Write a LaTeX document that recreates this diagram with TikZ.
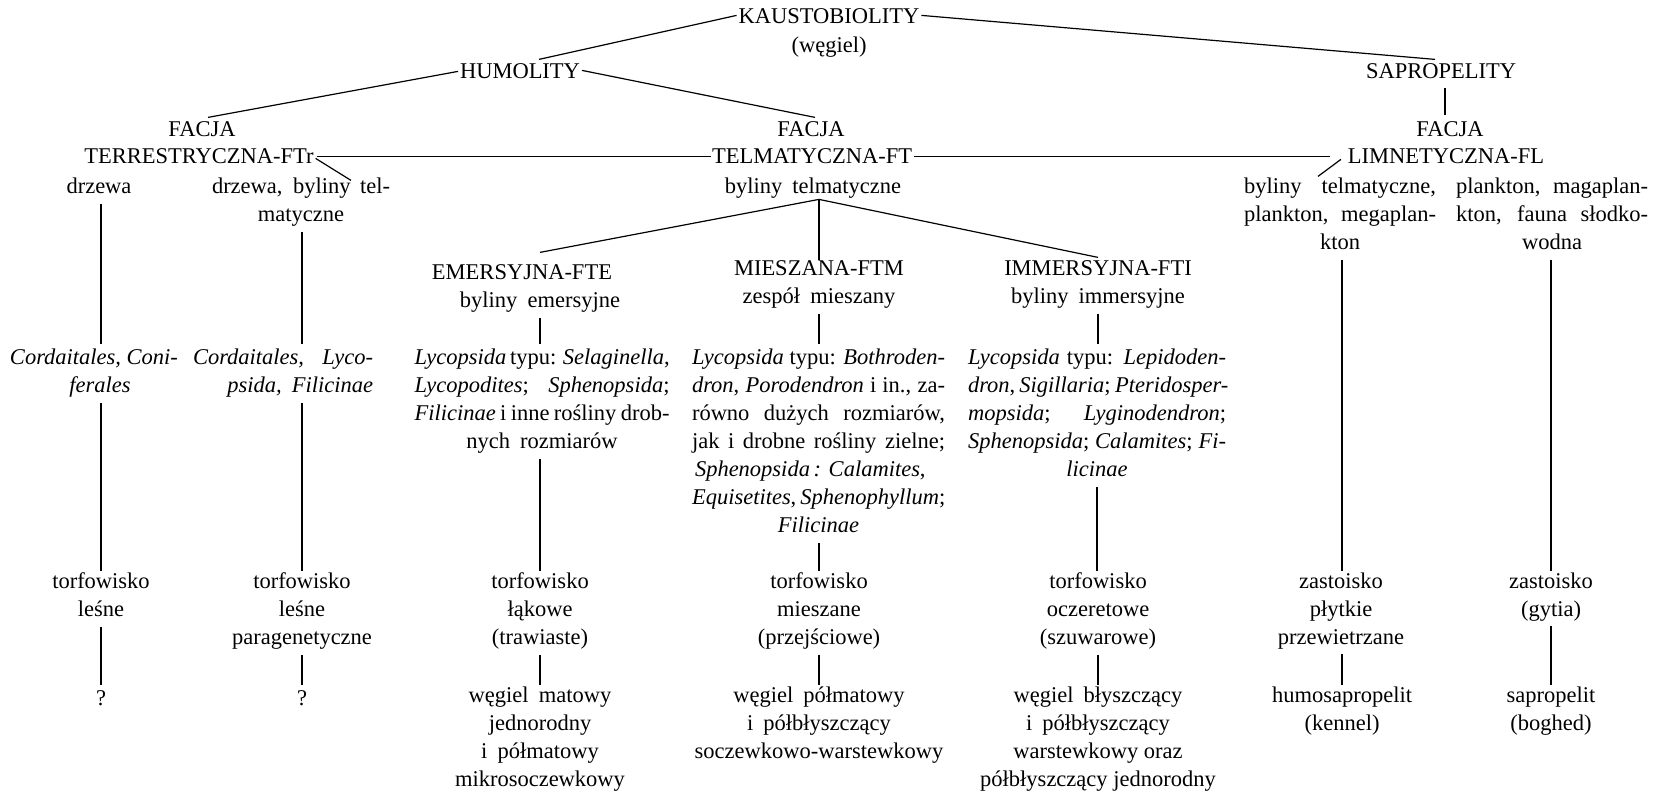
\documentclass[tikz,border=0pt]{standalone}
\usepackage{fontspec}
\setmainfont{Liberation Serif}
\usetikzlibrary{calc}
\newcommand\diagfont{\fontsize{11.25}{14}\selectfont}
\newcommand\natsp{\spaceskip=0pt\xspaceskip=0pt\relax}
\newcommand\jl[1]{\makebox[\linewidth][s]{\natsp #1}}
\newcommand\jleft[1]{\makebox[\linewidth][l]{\natsp #1}}
\newcommand\jright[1]{\makebox[\linewidth][r]{\natsp #1}}
\newcommand\ws{\hspace{0.45em}}
\begin{document}
\begin{tikzpicture}[x=0.5pt,y=-0.5pt,
  lbl/.style={inner sep=0pt,outer sep=0pt,anchor=north,yshift=9.8pt,align=center,
    font={\diagfont\natsp},execute at begin node={\natsp\strut},execute at end node=\strut},
  blk/.style={lbl,text width=#1},
  conn/.style={line width=0.6pt}]
\useasboundingbox (0,0) rectangle (1666,795);
\newcommand\vcon[3]{\draw[conn] ($(#1.south)+(#3,2)$) -- ($(#1.south |- #2.north)+(#3,-1)$);}

% ---- top levels
\node[lbl] (kaust) at (829,24) {KAUSTOBIOLITY};
\node[lbl] (weg) at (829,53) {(węgiel)};
\node[lbl] (hum) at (520,79) {HUMOLITY};
\node[lbl] (sapro) at (1441,79) {SAPROPELITY};
\node[lbl] (facT) at (202,137) {FACJA};
\node[lbl] (terr) at (199,164) {TERRESTRYCZNA-FTr};
\node[lbl] (facM) at (811,137) {FACJA};
\node[lbl] (telm) at (812,164) {TELMATYCZNA-FT};
\node[lbl] (facL) at (1450,137) {FACJA};
\node[lbl] (limn) at (1446,164) {LIMNETYCZNA-FL};

% ---- vegetation row
\node[lbl] (drz1) at (99,194) {drzewa};
\node[blk=89pt] (drz2) at (301,194) {\jl{drzewa, byliny tel-}\\matyczne};
\node[lbl] (bt) at (813,194) {byliny\ws telmatyczne};
\node[blk=96pt] (bt1) at (1340,194) {\jl{byliny telmatyczne,}\\\jl{plankton, megaplan-}\\kton};
\node[blk=96pt] (bt2) at (1552,194) {\jl{plankton, magaplan-}\\\jl{kton, fauna słodko-}\\wodna};

% ---- sub-facies
\node[lbl] (emer) at (522,280) {EMERSYJNA-FTE};
\node[lbl] (emerb) at (540,308) {byliny\ws emersyjne};
\node[lbl] (mies) at (819,280) {MIESZANA-FTM\\zespół\ws mieszany};
\node[lbl] (imm) at (1098,280) {IMMERSYJNA-FTI\\byliny\ws immersyjne};

% ---- plant lists
\node[blk=90pt] (cord1) at (100,365) {\jleft{\textit{Cordaitales, Coni-}}\\\textit{ferales}};
\node[blk=90pt] (cord2) at (283,365) {\jl{\textit{Cordaitales, Lyco-}}\\\jright{\textit{psida,\ws Filicinae}}};
\node[blk=127.5pt] (lyE) at (542,365) {\jl{\textit{Lycopsida} typu: \textit{Selaginella},}\\\jl{\textit{Lycopodites}; \textit{Sphenopsida};}\\\jl{\textit{Filicinae} i inne rośliny drob-}\\nych\ws rozmiarów};
\node[blk=126.5pt] (lyM) at (818.5,365) {\jl{\textit{Lycopsida} typu: \textit{Bothroden-}}\\\jl{\textit{dron}, \textit{Porodendron} i in., za-}\\\jl{równo dużych rozmiarów,}\\\jl{jak i drobne rośliny zielne;}\\\jleft{\hspace{1.5pt}\textit{Sphenopsida\,: Calamites},}\\\jl{\textit{Equisetites}, \textit{Sphenophyllum};}\\\textit{Filicinae}};
\node[blk=129pt] (lyI) at (1097,365) {\jl{\textit{Lycopsida} typu: \textit{Lepidoden-}}\\\jl{\textit{dron}, \textit{Sigillaria}; \textit{Pteridosper-}}\\\jl{\textit{mopsida}; \textit{Lyginodendron};}\\\jl{\textit{Sphenopsida}; \textit{Calamites}; \textit{Fi-}}\\\textit{licinae}};

% ---- environments
\node[lbl] (tor1) at (101,592) {torfowisko\\leśne};
\node[lbl] (tor2) at (302,592) {torfowisko\\leśne\\paragenetyczne};
\node[lbl] (tor3) at (540,592) {torfowisko\\łąkowe\\(trawiaste)};
\node[lbl] (tor4) at (819,592) {torfowisko\\mieszane\\(przejściowe)};
\node[lbl] (tor5) at (1098,592) {torfowisko\\oczeretowe\\(szuwarowe)};
\node[lbl] (zas6) at (1341,592) {zastoisko\\płytkie\\przewietrzane};
\node[lbl] (zas7) at (1551,592) {zastoisko\\(gytia)};

% ---- coals
\node[lbl] (q1) at (101,706) {?};
\node[lbl] (q2) at (302,706) {?};
\node[lbl] (w3) at (540,706) {węgiel\ws matowy\\jednorodny\\i\ws półmatowy\\mikrosoczewkowy};
\node[lbl] (w4) at (819,706) {węgiel\ws półmatowy\\i\ws półbłyszczący\\soczewkowo-warstewkowy};
\node[lbl] (w5) at (1098,706) {węgiel\ws błyszczący\\i\ws półbłyszczący\\warstewkowy oraz\\półbłyszczący jednorodny};
\node[lbl] (w6) at (1342,706) {humosapropelit\\(kennel)};
\node[lbl] (w7) at (1551,706) {sapropelit\\(boghed)};

% ---- connectors, top
\draw[conn] ($(kaust.west)+(-2,-3)$) -- ($(hum.north)+(19,0)$);
\draw[conn] ($(kaust.east)+(2,-3)$) -- ($(sapro.north)+(-6,0)$);
\draw[conn] ($(hum.west)+(-2,-2)$) -- ($(facT.north)+(6,0)$);
\draw[conn] ($(hum.east)+(2,-3)$) -- ($(facM.north)+(4,0)$);
\draw[conn] ($(sapro.south)+(4,1)$) coordinate (sp) -- ($(sp |- facL.north)+(0,-2)$);
\draw[conn] ($(terr.east)+(3,-1.5)$) -- ($(telm.west)+(-1,-1.5)$);
\draw[conn] ($(telm.east)+(2,-1.5)$) -- ($(limn.west)+(-18,-1.5)$);
\draw[conn] ($(terr.east)+(2,0)$) -- ($(drz2.north)+(50,6)$);
\draw[conn] ($(limn.west)+(-7,1)$) -- ($(bt1.north)+(-22,2)$);

% ---- branch of telmatic facies
\coordinate (ap) at ($(bt.south)+(6,-3)$);
\draw[conn] (ap) -- ($(emer.north)+(18,-8)$);
\draw[conn] (ap) -- (ap |- mies.north);
\draw[conn] (ap) -- ($(imm.north)+(0,-3)$);

% ---- columns
\vcon{drz1}{cord1}{2}
\vcon{cord1}{tor1}{1}
\vcon{tor1}{q1}{0}
\vcon{drz2}{cord2}{1}
\vcon{cord2}{tor2}{19}
\vcon{tor2}{q2}{0}
\vcon{emerb}{lyE}{0}
\vcon{lyE}{tor3}{-2}
\vcon{tor3}{w3}{0}
\vcon{mies}{lyM}{0}
\vcon{lyM}{tor4}{0.5}
\vcon{tor4}{w4}{0}
\vcon{imm}{lyI}{0}
\vcon{lyI}{tor5}{0}
\vcon{tor5}{w5}{0}
\vcon{bt1}{zas6}{2}
\vcon{zas6}{w6}{1}
\vcon{bt2}{zas7}{-1}
\vcon{zas7}{w7}{0}
\end{tikzpicture}
\end{document}
